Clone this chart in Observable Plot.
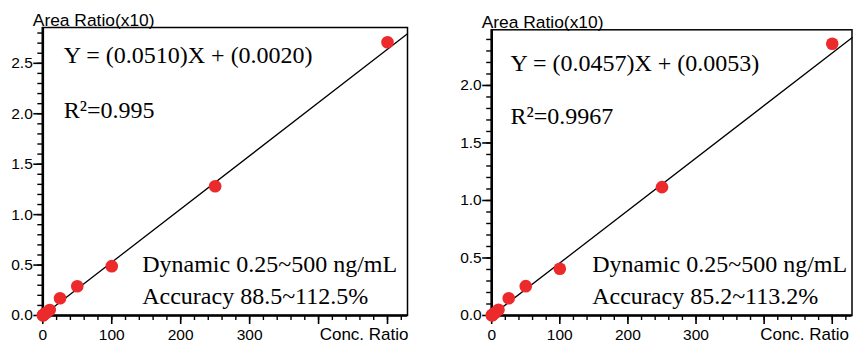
<!DOCTYPE html>
<html>
<head>
<meta charset="utf-8">
<script src="https://cdn.jsdelivr.net/npm/d3@7"></script>
<script src="https://cdn.jsdelivr.net/npm/@observablehq/plot@0.6"></script>
<style>
  html, body { margin: 0; padding: 0; background: #fff; }
  #wrap { width: 855px; height: 342px; display: flex; position: relative; overflow: hidden; }
  #wrap svg { display: block; flex: none; }
</style>
</head>
<body>
<div id="wrap"></div>
<script>
// ---------- data ----------
const conc = [0.25, 0.5, 1, 2.5, 5, 10, 25, 50, 100, 250, 500];
const areaLeft = [0.002, 0.003, 0.006, 0.014, 0.028, 0.055, 0.171, 0.29, 0.489, 1.281, 2.709];
const areaRight = [0.002, 0.003, 0.005, 0.012, 0.024, 0.05, 0.15, 0.255, 0.406, 1.116, 2.363];
const fitX = [0, 529];
const fitLeftY = [0.0, 2.792];
const fitRightY = [0.0, 2.415];

const xMajor = [0, 100, 200, 300, 400, 500];
const xLabels = ["0", "100", "200", "300", "", ""];
const yMajorLeft = [0, 0.5, 1.0, 1.5, 2.0, 2.5];
const yMajorRight = [0, 0.5, 1.0, 1.5, 2.0];
const yLabel = "Area Ratio(x10)";
const xLabel = "Conc. Ratio";
const eqLeft = ["Y = (0.0510)X + (0.0020)", "R²=0.995"];
const eqRight = ["Y = (0.0457)X + (0.0053)", "R²=0.9967"];
const infoLeft = ["Dynamic 0.25~500 ng/mL", "Accuracy 88.5~112.5%"];
const infoRight = ["Dynamic 0.25~500 ng/mL", "Accuracy 85.2~113.2%"];

const xMinor = d3.range(0, 530, 20);
const SANS = "'Liberation Sans', Arial, sans-serif";
const SERIF = "'Liberation Serif', 'Times New Roman', serif";

function panel(cfg) {
  const pts = conc.map((c, i) => ({x: c, y: cfg.area[i]}));
  const fit = fitX.map((x, i) => ({x, y: cfg.fitY[i]}));
  const yMinor = d3.range(0, cfg.yMax, 0.1).map(v => +v.toFixed(2));
  const txt = (s, dx, dy, extra = {}) => Plot.text([s], Object.assign({
    frameAnchor: "top-left", dx, dy, lineAnchor: "bottom", textAnchor: "start",
    fontSize: 24, fontFamily: SERIF, fill: "black"}, extra));
  return Plot.plot({
    width: cfg.width,
    height: 342,
    marginLeft: cfg.ml,
    marginRight: cfg.mr,
    marginTop: cfg.mt,
    marginBottom: 27,
    style: {fontFamily: SANS, fontSize: "15.5px", background: "white", overflow: "visible"},
    x: {domain: [0, 529], label: null},
    y: {domain: [0, cfg.yMax], label: null},
    marks: [
      Plot.frame({stroke: "black", strokeWidth: 1.5}),
      // minor ticks
      Plot.axisX({ticks: xMinor, tickSize: 5, text: null, label: null, strokeWidth: 1.4}),
      Plot.axisY({ticks: yMinor, tickSize: 5, text: null, label: null, strokeWidth: 1.4}),
      // major ticks
      Plot.axisX({ticks: xMajor, tickSize: 9, tickPadding: 4, label: null, strokeWidth: 1.6,
        tickFormat: (d) => xLabels[xMajor.indexOf(d)], fontSize: 15.5, fontFamily: SANS, fill: "black"}),
      Plot.axisY({ticks: cfg.yMajor, tickSize: 9, tickPadding: 1, label: null, strokeWidth: 1.6,
        tickFormat: d3.format(".1f"), fontSize: 15.5, fontFamily: SANS, fill: "black"}),
      // axis lines
      Plot.ruleX([0], {stroke: "black", strokeWidth: 2.6}),
      Plot.ruleY([0], {stroke: "black", strokeWidth: 2.6}),
      // fit line
      Plot.line(fit, {x: "x", y: "y", stroke: "black", strokeWidth: 1.3}),
      // points
      Plot.dot(pts, {x: "x", y: "y", r: 6.3, fill: "#ec2a2b", stroke: "none"}),
      // axis titles
      Plot.text([yLabel], {frameAnchor: "top-left", dx: -10, dy: -2, lineAnchor: "bottom", textAnchor: "start",
        fontSize: 17.4, fontFamily: SANS, fill: "black"}),
      Plot.text([xLabel], {frameAnchor: "bottom-right", dx: cfg.xlDx, dy: 24, lineAnchor: "bottom", textAnchor: "end",
        fontSize: 17, fontFamily: SANS, fill: "black"}),
      // equations and notes
      txt(cfg.eq[0], cfg.eqDx, cfg.eqDy[0]),
      txt(cfg.eq[1], cfg.eqDx, cfg.eqDy[1]),
      txt(cfg.info[0], cfg.infoDx, cfg.infoDy[0]),
      txt(cfg.info[1], cfg.infoDx, cfg.infoDy[1])
    ]
  });
}

const left = panel({
  width: 427, ml: 42.3, mr: 20, mt: 27, yMax: 2.855,
  area: areaLeft, fitY: fitLeftY, yMajor: yMajorLeft,
  eq: eqLeft, info: infoLeft,
  eqDx: 21, eqDy: [35.5, 90], infoDx: 99.4, infoDy: [244.7, 276.3], xlDx: 1
});
const right = panel({
  width: 428, ml: 64.2, mr: 3.5, mt: 29.3, yMax: 2.484,
  area: areaRight, fitY: fitRightY, yMajor: yMajorRight,
  eq: eqRight, info: infoRight,
  eqDx: 18.8, eqDy: [41.5, 93.7], infoDx: 100.5, infoDy: [242.4, 274], xlDx: -3
});
const wrap = document.getElementById("wrap");
wrap.appendChild(left);
wrap.appendChild(right);
</script>
</body>
</html>
